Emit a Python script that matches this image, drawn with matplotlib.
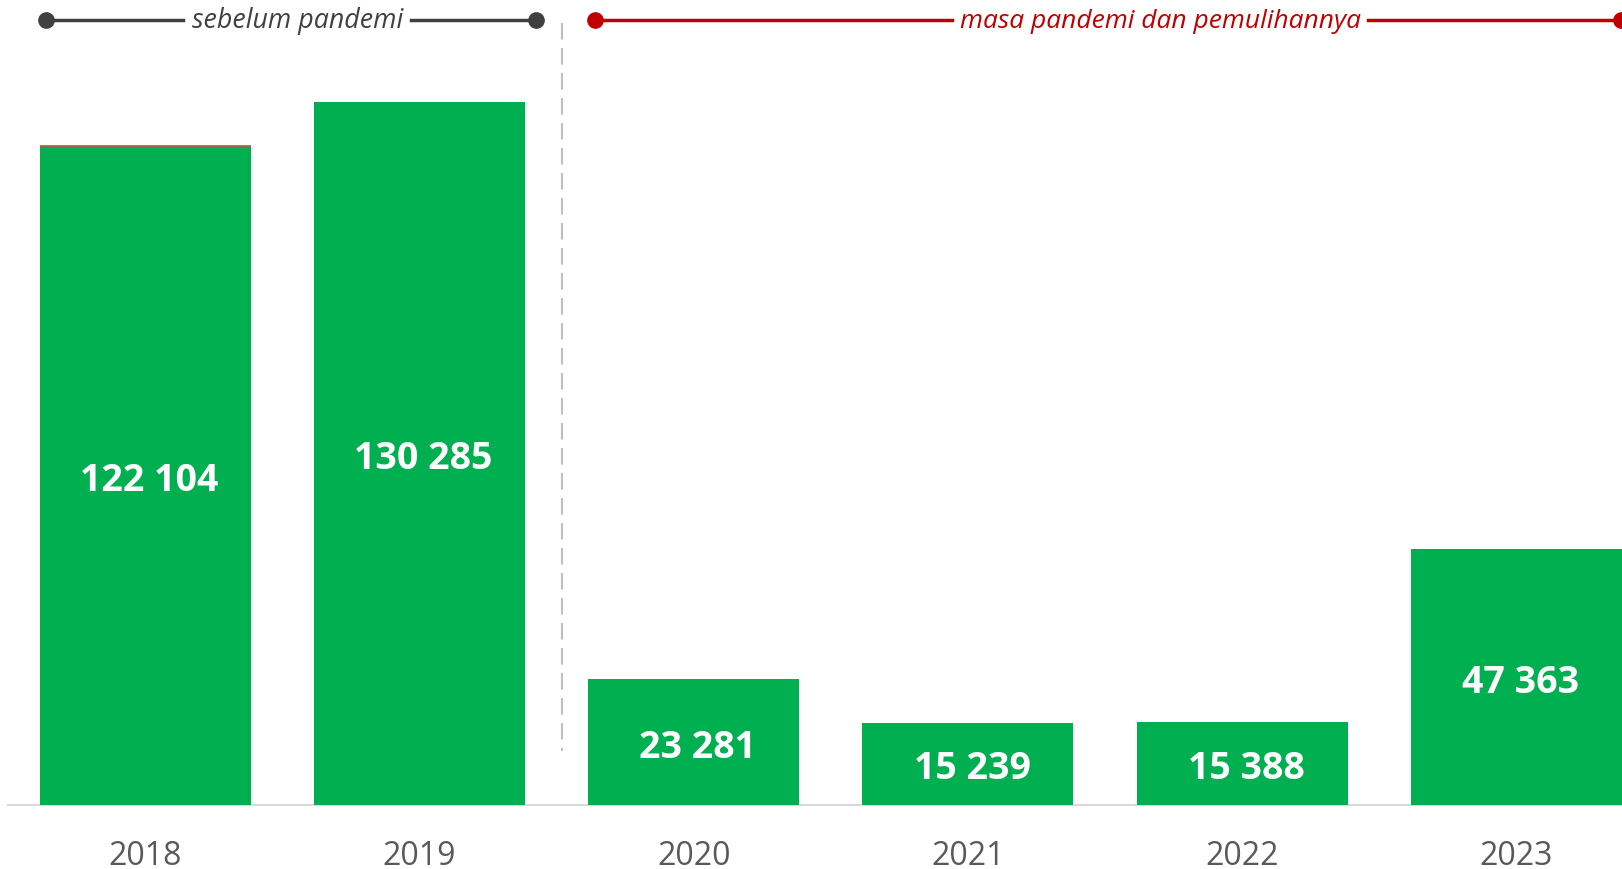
import matplotlib
matplotlib.use("Agg")
import matplotlib.pyplot as plt
from matplotlib.transforms import blended_transform_factory

# ---- data ----
years = ["2018", "2019", "2020", "2021", "2022", "2023"]
values = [122104, 130285, 23281, 15239, 15388, 47363]
value_labels = ["122 104", "130 285", "23 281", "15 239", "15 388", "47 363"]
period_labels = ["sebelum pandemi", "masa pandemi dan pemulihannya"]

BAR_COLOR = "#00B050"
GRAY_TEXT = "#595959"
RED = "#C00000"
DARK = "#404040"

W, H = 1622, 870
fig = plt.figure(figsize=(W / 100, H / 100), dpi=100)
base_px = 806
top_px = 60
ax = fig.add_axes([8 / W, (H - base_px) / H, (W - 8) / W, (base_px - top_px) / H])

bar_w = 0.77
x = list(range(len(years)))
ax.bar(x, values, width=bar_w, color=BAR_COLOR, zorder=2)
# thin red cap on first bar
ax.hlines(values[0], x[0] - bar_w / 2, x[0] + bar_w / 2, color="#C0504D", lw=1.2, zorder=3)

px_per_unit = 659 / 122104
ax.set_ylim(0, (base_px - top_px) / px_per_unit)
ax.set_xlim(-0.5, len(years) - 1 + bar_w / 2)

for xi, v, lab in zip(x, values, value_labels):
    ax.text(xi + 0.015, v / 2, lab, ha="center", va="center_baseline", color="white",
            fontsize=27, fontweight="bold", family="Open Sans", zorder=4)

# axis
for s in ax.spines.values():
    s.set_visible(False)
ax.set_yticks([])
ax.set_xticks([])
ax.axhline(0, color="#D9D9D9", lw=1.5, zorder=1, clip_on=False)

trans = blended_transform_factory(ax.transData, fig.transFigure)
for xi, yr in zip(x, years):
    ax.text(xi, 1 - 865 / H, yr, transform=trans, ha="center", va="baseline",
            color=GRAY_TEXT, fontsize=23, family="Open Sans")

# dashed separator
ax.plot([1.52, 1.52], [1 - 24 / H, 1 - 752 / H], transform=trans, color="#BFBFBF",
        lw=1.5, ls=(0, (8, 4)), clip_on=False, zorder=1)

# period annotations
yl = 1 - 21 / H
def fx(px):
    return px / W

ft = fig.transFigure
# before pandemic
fig.add_artist(plt.Line2D([fx(46), fx(183)], [yl, yl], color=DARK, lw=2.5, transform=ft))
fig.add_artist(plt.Line2D([fx(411), fx(536)], [yl, yl], color=DARK, lw=2.5, transform=ft))
fig.add_artist(plt.Line2D([fx(46), fx(536)], [yl, yl], ls="none", marker="o", ms=11,
                          color=DARK, transform=ft))
fig.text(fx(297.5), yl, period_labels[0], ha="center", va="center", color=DARK,
         fontsize=19.3, style="italic", family="Open Sans")
# pandemic
fig.add_artist(plt.Line2D([fx(595), fx(952)], [yl, yl], color=RED, lw=2.5, transform=ft))
fig.add_artist(plt.Line2D([fx(1368), fx(1621)], [yl, yl], color=RED, lw=2.5, transform=ft))
fig.add_artist(plt.Line2D([fx(595), fx(1621)], [yl, yl], ls="none", marker="o", ms=11,
                          color=RED, transform=ft))
fig.text(fx(1160), yl, period_labels[1], ha="center", va="center", color=RED,
         fontsize=19, style="italic", family="Open Sans")

fig.savefig("out.png", dpi=100, facecolor="white")
